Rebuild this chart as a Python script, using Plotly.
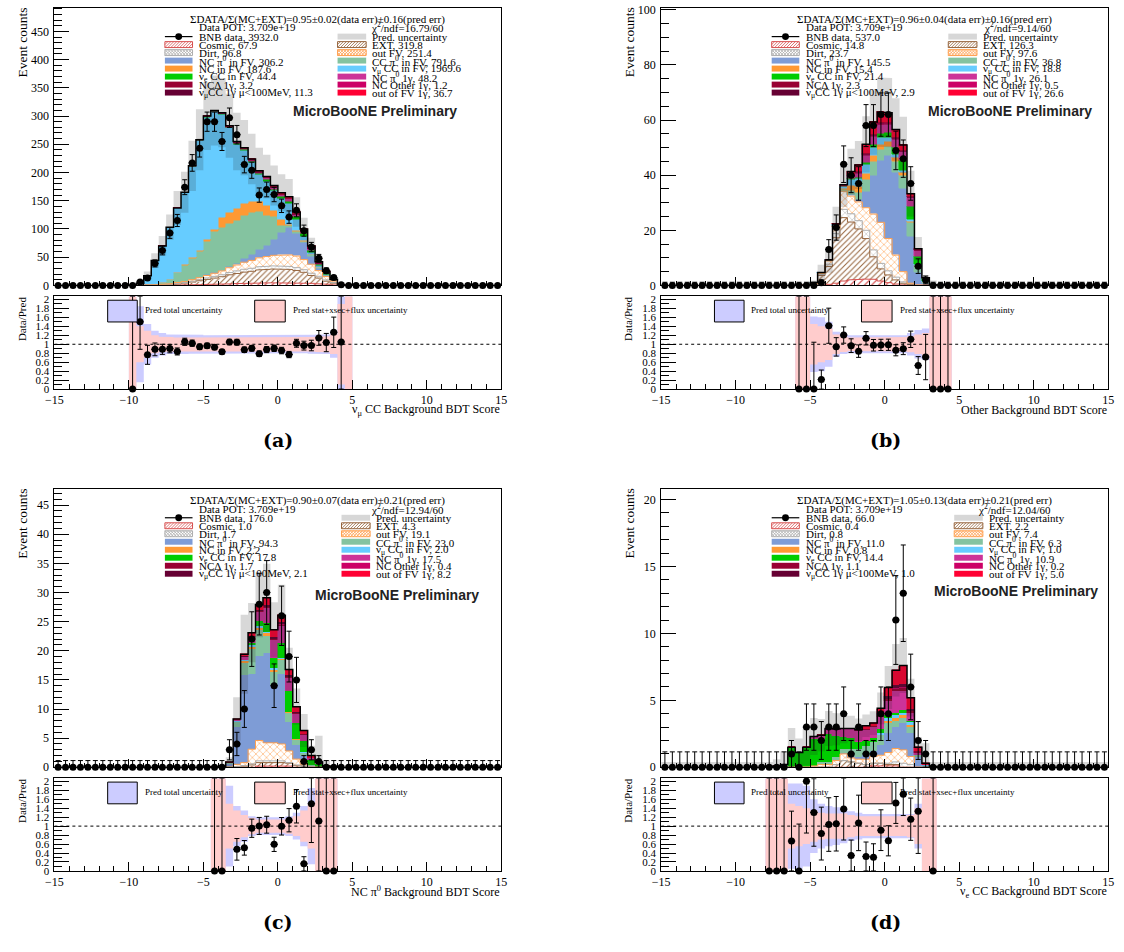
import numpy as np
import plotly.graph_objects as go

FIG_W, FIG_H = 1124, 952
X_MIN, X_MAX, BIN_W = -15.0, 15.0, 0.5
N_ALL = 60
RATIO_MAX = 2.07
ZERO_ERR_UP = 1.15
SERIF = "Liberation Serif, Times New Roman, serif"
SANS = "Liberation Sans, Arial, sans-serif"

COMP_KEYS = ["cosmic", "ext", "dirt", "outfv", "ncpi0", "ccpi0", "nc", "numucc",
             "nue", "ncpi01g", "ncdelta", "ncother", "numucc1g", "outfv1g"]
COMP_COLORS = {
    "cosmic": "rgb(215,80,80)", "ext": "rgb(150,100,60)", "dirt": "rgb(175,175,175)",
    "outfv": "rgb(255,160,80)", "ncpi0": "rgb(126,156,214)", "ccpi0": "rgb(132,195,160)",
    "nc": "rgb(255,153,51)", "numucc": "rgb(102,204,255)", "nue": "rgb(0,204,0)",
    "ncpi01g": "rgb(204,51,153)", "ncdelta": "rgb(153,0,51)", "ncother": "rgb(204,0,102)",
    "numucc1g": "rgb(102,0,51)", "outfv1g": "rgb(255,0,51)",
}
HATCH = {"cosmic": ("/", 5, 0.22), "ext": ("/", 4, 0.25), "dirt": ("x", 5, 0.18), "outfv": ("x", 5, 0.2)}
GREY_BAND = "rgba(40,40,40,0.18)"
BLUE_BAND = "rgb(204,204,255)"
PINK_BAND = "rgb(255,204,204)"

LEG_LEFT_KEYS = ["data", "cosmic", "dirt", "ncpi0", "nc", "nue", "ncdelta", "numucc1g"]
LEG_LEFT_NAMES = ["BNB data", "Cosmic", "Dirt", "NC π<sup>0</sup> in FV", "NC in FV",
                  "ν<sub>e</sub> CC in FV", "NCΔ 1γ", "ν<sub>μ</sub>CC 1γ μ&lt;100MeV"]
LEG_RIGHT_KEYS = ["unc", "ext", "outfv", "ccpi0", "numucc", "ncpi01g", "ncother", "outfv1g"]
LEG_RIGHT_NAMES = ["Pred. uncertainty", "EXT", "out FV", "CC π<sup>0</sup> in FV",
                   "ν<sub>μ</sub> CC in FV", "NC π<sup>0</sup> 1γ", "NC Other 1γ", "out of FV 1γ"]
POT_TEXT = "Data POT: 3.709e+19"

# ---------------- panel (a): nu_mu CC background BDT ----------------
A_START = -10.0
A_cosmic = [0, 0, 0, 0, 0.1, 0.2, 0.4, 0.6, 1.0, 1.3, 1.7, 2.0, 2.4, 2.8, 3.2, 3.6, 4.0, 4.3, 4.5, 4.6, 4.7, 4.7, 4.5, 4.2, 3.6, 3.0, 2.0, 1.0, 0.1, 0]
A_ext = [0, 0, 0.2, 0.5, 1, 1.5, 2.5, 3.5, 5, 7, 9, 11, 13, 16, 18, 20, 21, 23, 24, 24.5, 24, 23.5, 22, 19, 14, 10, 5.5, 3, 0.4, 0]
A_dirt = [0, 0, 0, 0.1, 0.2, 0.4, 0.7, 1, 1.5, 2, 2.5, 3, 3.5, 4, 4.5, 5, 5.3, 5.5, 5.6, 5.6, 5.5, 5.3, 5, 4.6, 4, 3.2, 2.2, 1.2, 0.1, 0]
A_outfv = [0, 0, 0.1, 0.4, 0.6, 1, 1.5, 2, 2.7, 3.4, 4.3, 5.5, 6.8, 8.5, 10.5, 12.5, 14, 16, 17, 18.5, 19.5, 20.5, 20.5, 18, 16, 10, 6, 2.5, 0.2, 0]
A_ncpi0 = [0, 0, 0, 0, 0, 0.2, 0.3, 0.4, 0.5, 0.7, 0.8, 1, 1, 2, 3, 7, 10, 14, 19, 28, 40, 48, 40, 30, 14, 4, 2, 0.5, 0, 0]
A_ccpi0 = [0, 0, 0, 1, 3, 6.7, 17, 28, 37, 46, 59, 72, 76, 76, 76, 76, 75, 68, 54, 40, 12, 3, 3, 2, 2, 1, 0.5, 0.2, 0, 0]
A_nc = [0, 0, 0, 0, 0, 0.5, 1, 1, 1.2, 1.5, 4, 5, 17, 20, 20, 20, 19, 18, 18, 12, 10, 3, 2, 1.5, 1, 0.5, 0.2, 0, 0, 0]
A_numucc = [0.3, 4, 16.7, 42, 65, 92.5, 113.6, 128.5, 162, 194.8, 216.5, 207.8, 182.8, 149.5, 114.9, 94.3, 69.3, 46.8, 42.5, 34, 37.3, 36.7, 20, 7.5, 3.5, 2.5, 0.8, 0.4, 0.15, 0.02]
A_nue = [0, 0, 0, 0, 0, 0, 0, 0, 0.3, 0.5, 0.8, 1, 1.2, 1.4, 1.6, 1.8, 2, 2.3, 2.6, 3, 3.4, 3.8, 4, 4, 3.5, 2, 1.5, 0.5, 0, 0]
A_ncpi01g = [0, 0, 0, 0, 0, 0, 0, 0, 0.2, 0.3, 0.5, 0.7, 0.9, 1.1, 1.4, 1.7, 2, 2.4, 2.8, 3.3, 3.8, 4.3, 4.6, 4.6, 4, 2.5, 1.8, 0.6, 0, 0]
A_ncdelta = [0, 0, 0, 0, 0, 0, 0, 0, 0, 0, 0, 0, 0.2, 0.2, 0.2, 0.2, 0.2, 0.2, 0.2, 0.2, 0.2, 0.2, 0.2, 0.2, 0.2, 0.2, 0.2, 0, 0, 0]
A_ncother = [0, 0, 0, 0, 0, 0, 0, 0, 0, 0, 0, 0, 0, 0, 0.1, 0.1, 0.1, 0.1, 0.1, 0.1, 0.1, 0.1, 0.1, 0.1, 0.1, 0.1, 0, 0, 0, 0]
A_numucc1g = [0, 0, 0, 0, 0, 0, 0, 0, 0.55, 0.55, 0.55, 0.55, 0.55, 0.55, 0.55, 0.55, 0.55, 0.55, 0.55, 0.55, 0.55, 0.55, 0.55, 0.55, 0.55, 0.55, 0.55, 0.55, 0, 0]
A_outfv1g = [0, 0, 0, 0, 0, 0, 0, 0, 0, 0, 0.3, 0.5, 0.7, 0.9, 1.1, 1.3, 1.6, 1.9, 2.2, 2.6, 3, 3.4, 3.7, 3.8, 3.5, 2.5, 1.8, 0.6, 0, 0]
A_data = [0, 6, 13, 39, 62, 93, 115, 174, 217, 243, 290, 290, 255, 297, 267, 214, 204, 160, 170, 161, 141, 121, 133, 97, 68, 48, 26, 14, 1, 0]
A_unc_tot = [5, 0.85, 0.45, 0.3, 0.25, 0.22, 0.22, 0.22, 0.21, 0.21, 0.2, 0.2, 0.2, 0.2, 0.2, 0.2, 0.2, 0.2, 0.2, 0.2, 0.2, 0.2, 0.2, 0.2, 0.21, 0.22, 0.22, 0.3, 5, 5]
A_unc_stat = [5, 0.4, 0.3, 0.2, 0.17, 0.16, 0.15, 0.15, 0.15, 0.15, 0.15, 0.15, 0.15, 0.15, 0.15, 0.15, 0.15, 0.15, 0.15, 0.15, 0.15, 0.15, 0.15, 0.15, 0.16, 0.17, 0.18, 0.22, 0.9, 5]
A_leg_left = [3932.0, 67.9, 96.8, 306.2, 187.6, 44.4, 3.2, 11.3]
A_leg_right = [None, 319.8, 251.4, 791.6, 1969.6, 48.2, 1.2, 36.7]
A_header = "ΣDATA/Σ(MC+EXT)=0.95±0.02(data err)±0.16(pred err)"
A_chi2 = "χ<sup>2</sup>/ndf=16.79/60"

# ---------------- panel (b): other background BDT ----------------
B_START = -6.0
B_cosmic = [0, 0, 0, 0.1, 0.4, 0.8, 1.6, 2, 2.2, 2.3, 2.2, 1.6, 1, 0.5, 0.2, 0.1, 0, 0, 0, 0, 0]
B_ext = [0.1, 0.15, 0.5, 3.5, 6.5, 16.5, 23, 21, 18.3, 14.7, 8.2, 4.4, 2.8, 1.5, 0.6, 0.2, 0, 0, 0, 0, 0]
B_dirt = [0, 0, 0.1, 0.3, 0.8, 1.5, 3, 3, 3, 3, 2.5, 2, 1.5, 1, 0.5, 0.3, 0.1, 0, 0, 0, 0]
B_outfv = [0, 0, 0.1, 0.5, 1.2, 2, 6.6, 6.4, 6.8, 8.2, 13, 14.9, 11.7, 8, 3.7, 0.2, 0, 0, 0, 0, 0]
B_ncpi0 = [0, 0, 0, 0, 0, 0, 0, 0.5, 0.8, 6, 14, 22.5, 30, 30, 30, 17, 4.5, 0.5, 0, 0, 0]
B_ccpi0 = [0, 0, 0, 0, 0.1, 0.3, 0.4, 1.5, 2.5, 4, 5, 4, 3.5, 4, 5, 5, 2.5, 0.5, 0, 0, 0]
B_nc = [0, 0, 0, 0, 0, 0.3, 0.5, 1.8, 2.2, 2.5, 2.2, 1.8, 1.5, 1.2, 0.8, 0.4, 0.2, 0, 0, 0, 0]
B_numucc = [0, 0, 0.4, 0.3, 0.2, 0.6, 0.6, 2.2, 2.8, 3, 2.8, 2.3, 1.5, 1.2, 0.9, 0.5, 0.2, 0.5, 0.3, 0.05, 0.05]
B_nue = [0, 0, 0, 0, 0, 0, 0.2, 0.3, 0.6, 0.8, 1.2, 1.5, 2, 2.5, 3.5, 5, 3, 0.8, 0, 0, 0]
B_ncpi01g = [0, 0, 0, 0, 0, 0, 0.2, 0.8, 1.5, 2.5, 3, 3.2, 3, 3, 3.2, 3, 2.2, 0.5, 0, 0, 0]
B_ncdelta = [0, 0, 0, 0, 0, 0, 0, 0, 0.2, 0.3, 0.3, 0.3, 0.3, 0.3, 0.3, 0.3, 0, 0, 0, 0, 0]
B_ncother = [0, 0, 0, 0, 0, 0, 0, 0, 0, 0.1, 0.1, 0.1, 0.1, 0.1, 0, 0, 0, 0, 0, 0, 0]
B_numucc1g = [0, 0, 0, 0, 0, 0, 0, 0.3, 0.3, 0.3, 0.3, 0.3, 0.3, 0.3, 0.3, 0.3, 0.2, 0, 0, 0, 0]
B_outfv1g = [0, 0, 0, 0, 0, 0.3, 0.4, 1.5, 2.5, 3.5, 4.5, 4, 3.5, 3, 2, 1, 0.4, 0, 0, 0, 0]
B_data = [0, 0, 0, 1, 13, 21, 44, 40, 37, 58, 58, 62, 62, 49, 46, 37, 7, 2, 0, 0, 0]
B_unc_tot = [5, 5, 0.62, 0.6, 0.5, 0.28, 0.22, 0.2, 0.2, 0.2, 0.2, 0.2, 0.2, 0.2, 0.2, 0.25, 0.32, 0.35, 5, 5, 5]
B_unc_stat = [5, 5, 0.45, 0.4, 0.35, 0.22, 0.17, 0.15, 0.15, 0.15, 0.15, 0.15, 0.15, 0.15, 0.16, 0.18, 0.22, 0.25, 5, 5, 5]
B_leg_left = [537.0, 14.8, 23.7, 145.5, 15.4, 21.4, 2.3, 2.9]
B_leg_right = [None, 126.3, 97.6, 36.8, 18.8, 26.1, 0.5, 26.6]
B_header = "ΣDATA/Σ(MC+EXT)=0.96±0.04(data err)±0.16(pred err)"
B_chi2 = "χ<sup>2</sup>/ndf=9.14/60"

# ---------------- panel (c): NC pi0 background BDT ----------------
C_START = -4.5
C_cosmic = [0, 0, 0, 0, 0, 0, 0.2, 0.2, 0.2, 0.2, 0.2, 0, 0, 0, 0, 0, 0]
C_ext = [0, 0, 0, 0.1, 0.2, 0.4, 0.6, 0.7, 0.7, 0.6, 0.5, 0.3, 0.2, 0, 0, 0, 0]
C_dirt = [0, 0, 0, 0, 0.1, 0.2, 0.3, 0.3, 0.3, 0.3, 0.1, 0.1, 0, 0, 0, 0, 0]
C_outfv = [0, 0, 0, 0.4, 0.5, 2.5, 3.5, 3, 3, 2.9, 2, 1, 0.3, 0, 0, 0, 0]
C_ncpi0 = [0, 0, 0.6, 6.5, 15, 13, 14.5, 15.4, 10, 12, 5, 2.5, 1.5, 0.3, 0.1, 0, 0]
C_ccpi0 = [0, 0, 0.2, 0.8, 2.2, 4.2, 4.5, 3, 2.2, 2.4, 1.6, 0.8, 0.4, 0.2, 0, 0, 0]
C_nc = [0, 0, 0, 0, 0.2, 0.4, 0.4, 0.4, 0.3, 0.2, 0.1, 0.1, 0.1, 0, 0, 0, 0]
C_numucc = [0.05, 0.1, 0, 0.1, 0.2, 0.3, 0.3, 0.3, 0.3, 0.2, 0.1, 0.1, 0.1, 0, 0, 0.2, 0.05]
C_nue = [0, 0, 0, 0, 0.1, 0.3, 0.8, 1.5, 1.8, 2.5, 3.5, 2.8, 2, 0.7, 0.5, 0, 0]
C_ncpi01g = [0, 0, 0, 0.2, 0.4, 0.8, 1.5, 2.5, 3, 3, 2.2, 1.5, 1, 0.5, 0.2, 0, 0]
C_ncdelta = [0, 0, 0, 0, 0, 0.2, 0.2, 0.2, 0.2, 0.2, 0.2, 0.2, 0.2, 0, 0, 0, 0]
C_ncother = [0, 0, 0, 0, 0, 0, 0, 0.1, 0.1, 0.1, 0.1, 0, 0, 0, 0, 0, 0]
C_numucc1g = [0, 0, 0, 0, 0.2, 0.3, 0.3, 0.3, 0.3, 0.3, 0.2, 0.2, 0, 0, 0, 0, 0]
C_outfv1g = [0, 0, 0.1, 0.2, 0.3, 0.5, 0.8, 1.2, 1.2, 1.2, 1, 0.8, 0.5, 0.3, 0.1, 0, 0]
C_data = [0, 0, 3, 4, 10, 22, 28, 30, 14, 26, 19, 15, 1, 3, 1, 0, 0]
C_unc_tot = [5, 5, 0.9, 0.45, 0.35, 0.22, 0.2, 0.2, 0.2, 0.2, 0.22, 0.3, 0.45, 0.85, 5, 5, 5]
C_unc_stat = [5, 5, 0.5, 0.35, 0.25, 0.18, 0.15, 0.15, 0.15, 0.15, 0.17, 0.22, 0.35, 0.5, 5, 5, 5]
C_leg_left = [176.0, 1.0, 1.7, 94.3, 2.2, 17.8, 1.7, 2.1]
C_leg_right = [None, 4.3, 19.1, 23.0, 2.0, 17.5, 0.4, 8.2]
C_header = "ΣDATA/Σ(MC+EXT)=0.90±0.07(data err)±0.21(pred err)"
C_chi2 = "χ<sup>2</sup>/ndf=12.94/60"

# ---------------- panel (d): nu_e CC background BDT ----------------
D_START = -8.0
D_cosmic = [0, 0, 0, 0, 0, 0, 0, 0, 0, 0, 0, 0, 0, 0, 0.1, 0.1, 0.1, 0.1, 0, 0, 0, 0, 0]
D_ext = [0, 0, 0, 0, 0, 0, 0, 0, 0, 0.2, 0.5, 0.4, 0.3, 0.2, 0.2, 0.2, 0.1, 0.1, 0, 0, 0, 0, 0]
D_dirt = [0, 0, 0, 0, 0, 0, 0, 0, 0, 0, 0, 0, 0, 0, 0, 0, 0.1, 0.2, 0.3, 0.2, 0, 0, 0]
D_outfv = [0, 0, 0, 0, 0, 0, 0.1, 0.2, 0.2, 0.3, 0.5, 0.3, 0.3, 0.4, 0.5, 0.6, 0.8, 1.0, 1.0, 0.6, 0, 0, 0]
D_ncpi0 = [0, 0, 0, 0, 0, 0, 0, 0, 0, 0, 0.1, 0.2, 0.2, 0.3, 0.4, 0.8, 1.5, 1.6, 2.0, 1.8, 0.8, 0, 0]
D_ccpi0 = [0, 0, 0, 0, 0, 0, 0, 0.2, 0.2, 0.3, 0.3, 0.5, 0.6, 0.7, 0.7, 0.7, 0.7, 0.5, 0.4, 0.4, 0.1, 0, 0]
D_nc = [0, 0, 0, 0, 0, 0, 0, 0, 0, 0, 0, 0, 0, 0, 0, 0, 0.2, 0.2, 0.2, 0.2, 0, 0, 0]
D_numucc = [0.05, 0.1, 0.2, 0, 0, 0, 0, 0, 0, 0, 0, 0, 0, 0, 0, 0.2, 0.2, 0.2, 0.2, 0.2, 0, 0.2, 0.05]
D_nue = [0, 0, 0, 1.5, 1.1, 1.5, 2.0, 1.7, 2.1, 1.55, 0.9, 0.8, 0.5, 0.4, 0.3, 0.3, 0.2, 0.2, 0.2, 0.1, 0, 0, 0]
D_ncpi01g = [0, 0, 0, 0, 0, 0, 0.2, 0.3, 0.4, 0.5, 0.6, 0.7, 0.8, 0.8, 0.8, 0.9, 1.1, 1.6, 1.4, 0.6, 0.2, 0, 0]
D_ncdelta = [0, 0, 0, 0, 0, 0, 0, 0, 0, 0, 0, 0, 0.1, 0.1, 0.1, 0.1, 0.15, 0.15, 0.2, 0.1, 0.1, 0, 0]
D_ncother = [0, 0, 0, 0, 0, 0, 0, 0, 0, 0, 0, 0, 0, 0, 0, 0, 0, 0.1, 0.1, 0, 0, 0, 0]
D_numucc1g = [0, 0, 0, 0, 0, 0, 0, 0, 0, 0, 0, 0, 0, 0, 0, 0.2, 0.2, 0.2, 0.2, 0.2, 0, 0, 0]
D_outfv1g = [0, 0, 0, 0, 0, 0, 0, 0, 0, 0, 0, 0, 0, 0.2, 0.2, 0.3, 0.6, 1.1, 1.4, 0.8, 0.3, 0.1, 0]
D_data = [0, 0, 0, 1, 0, 3, 3, 2, 3, 3, 4, 1, 3, 1, 1, 4, 4, 11, 13, 6, 2, 1, 0]
D_unc_tot = [5, 5, 5, 0.95, 0.95, 0.9, 0.6, 0.5, 0.45, 0.42, 0.38, 0.33, 0.3, 0.27, 0.27, 0.27, 0.27, 0.27, 0.27, 0.27, 0.5, 5, 5]
D_unc_stat = [5, 5, 5, 0.5, 0.45, 0.4, 0.35, 0.3, 0.28, 0.28, 0.28, 0.25, 0.22, 0.22, 0.22, 0.22, 0.22, 0.22, 0.22, 0.25, 0.4, 5, 5]
D_empty_unc = 0.4
D_leg_left = [66.0, 0.4, 0.8, 11.0, 0.8, 14.4, 1.1, 1.0]
D_leg_right = [None, 2.2, 7.4, 6.3, 1.0, 10.9, 0.2, 5.0]
D_header = "ΣDATA/Σ(MC+EXT)=1.05±0.13(data err)±0.21(pred err)"
D_chi2 = "χ<sup>2</sup>/ndf=12.04/60"


def comps(prefix):
    g = globals()
    return {k: g[f"{prefix}_{k}"] for k in COMP_KEYS}


PANELS = [
    dict(start=A_START, comps=comps("A"), data=A_data, utot=A_unc_tot, ustat=A_unc_stat,
         ymax=492, dtick=50, mdtick=10, empty=0.0, legL=A_leg_left, legR=A_leg_right,
         header=A_header, chi2=A_chi2, xtitle="ν<sub>μ</sub> CC Background BDT Score", label="(a)",
         fl=46, mt=2.7, mb=284, rt=295, rb=389, rcol=287, mbx=325, mby=105),
    dict(start=B_START, comps=comps("B"), data=B_data, utot=B_unc_tot, ustat=B_unc_stat,
         ymax=100.8, dtick=20, mdtick=5, empty=0.0, legL=B_leg_left, legR=B_leg_right,
         header=B_header, chi2=B_chi2, xtitle="Other Background BDT Score", label="(b)",
         fl=661, mt=2.7, mb=284, rt=295, rb=389, rcol=291, mbx=354, mby=105),
    dict(start=C_START, comps=comps("C"), data=C_data, utot=C_unc_tot, ustat=C_unc_stat,
         ymax=47.8, dtick=5, mdtick=1, empty=0.0, legL=C_leg_left, legR=C_leg_right,
         header=C_header, chi2=C_chi2, xtitle="NC π<sup>0</sup> Background BDT Score", label="(c)",
         fl=46, mt=490, mb=772, rt=783, rb=877, rcol=291, mbx=347, mby=108),
    dict(start=D_START, comps=comps("D"), data=D_data, utot=D_unc_tot, ustat=D_unc_stat,
         ymax=20.8, dtick=5, mdtick=1, empty=D_empty_unc, legL=D_leg_left, legR=D_leg_right,
         header=D_header, chi2=D_chi2, xtitle="ν<sub>e</sub> CC Background BDT Score", label="(d)",
         fl=661, mt=490, mb=772, rt=783, rb=877, rcol=297, mbx=360, mby=103),
]
FRAME_W = 453


def px(X):
    return X / FIG_W


def py(Y):
    return 1 - Y / FIG_H


def step_xy(edges, vals):
    xs = np.repeat(edges, 2)
    ys = np.concatenate([[0.0], np.repeat(vals, 2), [0.0]])
    return xs, ys


def band_xy(edges, lo, hi):
    xu = np.repeat(edges, 2)[1:-1]
    return (np.concatenate([xu, xu[::-1]]),
            np.concatenate([np.repeat(hi, 2), np.repeat(lo, 2)[::-1]]))


fig = go.Figure()
shapes = []
annotations = []


def add_text(X, Y, s, size=11, xanchor="left", yanchor="middle", family=SERIF, angle=0, color="black"):
    annotations.append(dict(x=px(X), y=py(Y), xref="paper", yref="paper", text=s, showarrow=False,
                            xanchor=xanchor, yanchor=yanchor, textangle=angle,
                            font=dict(family=family, size=size, color=color), borderpad=0))


def add_rect(x0, x1, y0, y1, fill, line_color=None, lw=0):
    shapes.append(dict(type="rect", xref="paper", yref="paper", x0=px(x0), x1=px(x1),
                       y0=py(y1), y1=py(y0), fillcolor=fill,
                       line=dict(color=line_color or fill, width=lw), layer="above"))


def add_hatch(x0, x1, y0, y1, color, cross, step=3.0):
    h = y1 - y0
    segs = []
    dirs = [1, -1] if cross else [1]
    for d in dirs:
        s = x0 - h
        while s < x1:
            ax, bx = s, s + h
            if d == 1:
                ay, by = y1, y0
            else:
                ay, by = y0, y1
            if ax < x0:
                ay = ay - d * (x0 - ax)
                ax = x0
            if bx > x1:
                by = by + d * (bx - x1)
                bx = x1
            if bx > ax:
                segs.append(f"M{px(ax):.5f},{py(ay):.5f} L{px(bx):.5f},{py(by):.5f}")
            s += step
    shapes.append(dict(type="path", xref="paper", yref="paper", path=" ".join(segs),
                       line=dict(color=color, width=0.8), layer="above"))


def legend_symbol(key, x0, x1, yc):
    y0, y1 = yc - 3, yc + 3
    if key == "data":
        shapes.append(dict(type="line", xref="paper", yref="paper", x0=px(x0), x1=px(x1),
                           y0=py(yc), y1=py(yc), line=dict(color="black", width=1.2), layer="above"))
        xc = 0.5 * (x0 + x1)
        shapes.append(dict(type="circle", xref="paper", yref="paper", x0=px(xc - 3.5), x1=px(xc + 3.5),
                           y0=py(yc + 3.5), y1=py(yc - 3.5), fillcolor="black",
                           line=dict(color="black", width=0), layer="above"))
    elif key == "unc":
        add_rect(x0, x1, y0, y1, "rgb(215,215,215)")
    elif key in HATCH:
        col = COMP_COLORS[key]
        add_rect(x0, x1, y0, y1, "white", col, 1)
        add_hatch(x0, x1, y0, y1, col, HATCH[key][0] == "x")
    else:
        add_rect(x0, x1, y0, y1, COMP_COLORS[key])


layout_axes = {}
ALL_EDGES = X_MIN + BIN_W * np.arange(N_ALL + 1)
ALL_CENTERS = ALL_EDGES[:-1] + BIN_W / 2

for k, p in enumerate(PANELS):
    im, ir = 2 * k + 1, 2 * k + 2
    xm = "x" if im == 1 else f"x{im}"
    ym = "y" if im == 1 else f"y{im}"
    xr, yr = f"x{ir}", f"y{ir}"
    n = len(p["data"])
    for key in COMP_KEYS:
        assert len(p["comps"][key]) == n, (k, key)
    assert len(p["utot"]) == n and len(p["ustat"]) == n
    edges = p["start"] + BIN_W * np.arange(n + 1)
    centers = edges[:-1] + BIN_W / 2
    off = int(round((p["start"] - X_MIN) / BIN_W))

    # stacked components
    for key in COMP_KEYS:
        vals = np.array(p["comps"][key], float)
        col = COMP_COLORS[key]
        if key in HATCH:
            shp, size, sol = HATCH[key]
            marker = dict(color=col, line=dict(width=0),
                          pattern=dict(shape=shp, fgcolor=col, bgcolor="white", size=size,
                                       solidity=sol, fillmode="replace"))
        else:
            marker = dict(color=col, line=dict(color=col, width=0.5))
        fig.add_trace(go.Bar(x=centers, y=vals, width=BIN_W, marker=marker, xaxis=xm, yaxis=ym,
                             showlegend=False, hoverinfo="skip"))

    total = np.sum([np.array(p["comps"][key], float) for key in COMP_KEYS], axis=0)

    # outlines of hatched layers
    cum = np.zeros(n)
    for key in ["cosmic", "ext", "dirt", "outfv"]:
        cum = cum + np.array(p["comps"][key], float)
        xs, ys = step_xy(edges, cum)
        fig.add_trace(go.Scatter(x=xs, y=ys, mode="lines", line=dict(color=COMP_COLORS[key], width=1),
                                 xaxis=xm, yaxis=ym, showlegend=False, hoverinfo="skip"))

    # prediction uncertainty (grey, translucent)
    t_full = np.zeros(N_ALL)
    t_full[off:off + n] = total
    u_full = np.zeros(N_ALL)
    u_full[off:off + n] = p["utot"]
    hi = np.maximum(t_full * (1 + u_full), p["empty"])
    lo = np.clip(t_full * (1 - u_full), 0, None)
    lo = np.minimum(lo, hi)
    bx, by = band_xy(ALL_EDGES, lo, np.minimum(hi, p["ymax"]))
    fig.add_trace(go.Scatter(x=bx, y=by, mode="lines", fill="toself", fillcolor=GREY_BAND,
                             line=dict(width=0), xaxis=xm, yaxis=ym, showlegend=False, hoverinfo="skip"))

    # total outline
    xs, ys = step_xy(edges, total)
    fig.add_trace(go.Scatter(x=xs, y=ys, mode="lines", line=dict(color="black", width=1.5),
                             xaxis=xm, yaxis=ym, showlegend=False, hoverinfo="skip"))

    # data points
    d_full = np.zeros(N_ALL)
    d_full[off:off + n] = p["data"]
    eu = np.where(d_full > 0, np.sqrt(d_full), ZERO_ERR_UP)
    ed = np.sqrt(d_full)
    fig.add_trace(go.Scatter(x=ALL_CENTERS, y=d_full, mode="markers",
                             marker=dict(size=7, color="black"),
                             error_y=dict(type="data", array=eu, arrayminus=ed, symmetric=False,
                                          color="black", thickness=1, width=2.5),
                             error_x=dict(type="constant", value=BIN_W / 2, color="black",
                                          thickness=1, width=0),
                             cliponaxis=False, xaxis=xm, yaxis=ym, showlegend=False, hoverinfo="skip"))

    # ratio bands
    ut = np.array(p["utot"], float)
    us = np.array(p["ustat"], float)
    for u, col in [(ut, BLUE_BAND), (us, PINK_BAND)]:
        bx, by = band_xy(edges, np.clip(1 - u, 0, RATIO_MAX), np.clip(1 + u, 0, RATIO_MAX))
        fig.add_trace(go.Scatter(x=bx, y=by, mode="lines", fill="toself", fillcolor=col,
                                 line=dict(width=0), xaxis=xr, yaxis=yr, showlegend=False,
                                 hoverinfo="skip"))

    # ratio points
    dat = np.array(p["data"], float)
    ratio = dat / total
    mask = (total > 0.03) & (ratio <= RATIO_MAX)
    r_up = np.where(dat > 0, np.sqrt(dat), ZERO_ERR_UP) / total
    r_dn = np.sqrt(dat) / total
    r_up = np.minimum(ratio + r_up, RATIO_MAX) - ratio
    r_dn = np.minimum(r_dn, ratio)
    fig.add_trace(go.Scatter(x=centers[mask], y=ratio[mask], mode="markers",
                             marker=dict(size=7, color="black"),
                             error_y=dict(type="data", array=r_up[mask], arrayminus=r_dn[mask],
                                          symmetric=False, color="black", thickness=1, width=2.5),
                             error_x=dict(type="constant", value=BIN_W / 2, color="black",
                                          thickness=1, width=0),
                             cliponaxis=False, xaxis=xr, yaxis=yr, showlegend=False, hoverinfo="skip"))

    shapes.append(dict(type="line", xref=xr, yref=yr, x0=X_MIN, x1=X_MAX, y0=1, y1=1,
                       line=dict(color="black", width=1, dash="dot"), layer="above"))

    # axes
    fl, mt, mb, rt, rb = p["fl"], p["mt"], p["mb"], p["rt"], p["rb"]
    xdom = [px(fl), px(fl + FRAME_W)]
    common = dict(showgrid=False, zeroline=False, showline=True, mirror=True, linecolor="black",
                  linewidth=1, ticks="inside", tickcolor="black", tickwidth=1)
    layout_axes["xaxis" if im == 1 else f"xaxis{im}"] = dict(
        domain=xdom, anchor=ym, range=[X_MIN, X_MAX], dtick=5, tick0=0, ticklen=8,
        showticklabels=False, minor=dict(ticks="inside", ticklen=4, dtick=1, tickcolor="black"), **common)
    layout_axes["yaxis" if im == 1 else f"yaxis{im}"] = dict(
        domain=[py(mb), py(mt)], anchor=xm, range=[0, p["ymax"]], dtick=p["dtick"], tick0=0,
        ticklen=15, tickfont=dict(family=SERIF, size=12, color="black"), ticklabelstandoff=2,
        minor=dict(ticks="inside", ticklen=8, dtick=p["mdtick"], tickcolor="black"), **common)
    layout_axes[f"xaxis{ir}"] = dict(
        domain=xdom, anchor=yr, range=[X_MIN, X_MAX], dtick=5, tick0=0, ticklen=9,
        tickfont=dict(family=SERIF, size=12, color="black"), ticklabelstandoff=0,
        minor=dict(ticks="inside", ticklen=5, dtick=1, tickcolor="black"), **common)
    layout_axes[f"yaxis{ir}"] = dict(
        domain=[py(rb), py(rt)], anchor=xr, range=[0, RATIO_MAX], dtick=0.2, tick0=0,
        ticklen=15, tickfont=dict(family=SERIF, size=11, color="black"), ticklabelstandoff=2,
        minor=dict(ticks="inside", ticklen=8, dtick=0.1, tickcolor="black"), **common)

    # text block / legend
    add_text(fl + 267, mt + 11.5, p["header"], xanchor="center")
    add_text(fl + 146, mt + 20, POT_TEXT)
    add_text(fl + 396, mt + 20, p["chi2"], xanchor="right")
    for j in range(8):
        yc = mt + 29.3 + 8.1 * j
        legend_symbol(LEG_LEFT_KEYS[j], fl + 112, fl + 140, yc)
        add_text(fl + 146, yc, f"{LEG_LEFT_NAMES[j]}, {p['legL'][j]:.1f}")
        rx = fl + p["rcol"]
        legend_symbol(LEG_RIGHT_KEYS[j], rx, rx + 29, yc)
        rtxt = LEG_RIGHT_NAMES[j] if p["legR"][j] is None else f"{LEG_RIGHT_NAMES[j]}, {p['legR'][j]:.1f}"
        add_text(rx + 34, yc, rtxt)
    add_text(fl + p["mbx"], mt + p["mby"], "<b>MicroBooNE Preliminary</b>", size=14,
             xanchor="center", family=SANS, color="#222222")

    # ratio legend
    add_rect(fl + 54, fl + 84, rt + 4, rt + 26, BLUE_BAND, "black", 1)
    add_text(fl + 90.5, rt + 14, "Pred total uncertainty", size=9)
    add_rect(fl + 203, fl + 234, rt + 4, rt + 26, PINK_BAND, "black", 1)
    add_text(fl + 241, rt + 14, "Pred stat+xsec+flux uncertainty", size=9)

    # titles
    add_text(fl - 32, mt - 1, "Event counts", size=13.5, xanchor="center", yanchor="top", angle=-90)
    add_text(fl - 33, rt, "Data/Pred", size=11, xanchor="center", yanchor="top", angle=-90)
    add_text(fl + FRAME_W, rb + 21, p["xtitle"], size=12, xanchor="right")
    add_text(fl + 227, rb + 52, f"<b>{p['label']}</b>", size=19, xanchor="center",
             family="DejaVu Serif, serif")

fig.update_layout(width=FIG_W, height=FIG_H, margin=dict(l=0, r=0, t=0, b=0),
                  paper_bgcolor="white", plot_bgcolor="white", barmode="stack", bargap=0,
                  showlegend=False, shapes=shapes, annotations=annotations, **layout_axes)
fig.write_html("out.html")
